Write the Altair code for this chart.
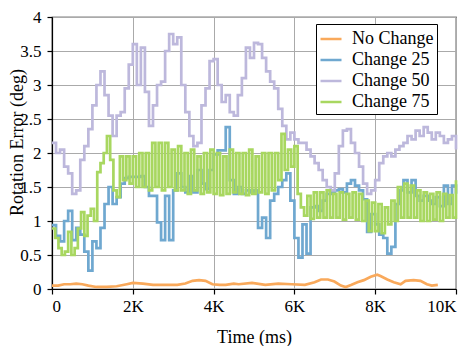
import altair as alt
import pandas as pd
import numpy as np

series_names = ["No Change", "Change 25", "Change 50", "Change 75"]
series_colors = ["#F9A95B", "#6FA8D0", "#BDB8DC", "#A8D760"]

# No Change (smooth, ms / deg)
orange_t = [0, 150, 300, 450, 600, 750, 900, 1100, 1350, 1600, 1850, 2000, 2250, 2500, 2800,
            3100, 3300, 3480, 3640, 3800, 3970, 4150, 4300, 4500, 4620, 4950, 5280, 5600, 5930,
            6260, 6500, 6660, 6830, 6990, 7150, 7270, 7400, 7560, 7720, 7890, 8050, 8130, 8300,
            8460, 8630, 8750, 8950, 9120, 9280, 9400, 9550]
orange_v = [0.05, 0.05, 0.07, 0.07, 0.08, 0.07, 0.05, 0.03, 0.03, 0.04, 0.07, 0.09, 0.08, 0.06, 0.06,
            0.06, 0.08, 0.12, 0.13, 0.12, 0.07, 0.06, 0.06, 0.08, 0.07, 0.09, 0.06, 0.08, 0.07,
            0.06, 0.10, 0.14, 0.14, 0.11, 0.05, 0.03, 0.06, 0.10, 0.13, 0.18, 0.21, 0.19, 0.14,
            0.10, 0.07, 0.12, 0.13, 0.12, 0.07, 0.05, 0.06]

# Change 25, sampled every 100 ms
blue_v = [0.94, 0.78, 0.70, 1.00, 1.15, 0.72, 0.90, 0.80, 0.55, 0.27,
          0.70, 0.60, 0.90, 1.25, 1.50, 1.25, 1.35, 1.55, 1.63, 1.65,
          1.65, 1.65, 1.66, 1.50, 1.37, 1.37, 0.98, 0.72, 1.37, 0.72,
          1.45, 1.70, 1.50, 1.42, 1.66, 1.42, 1.75, 1.55, 1.47, 1.75,
          1.98, 2.04, 2.04, 2.38, 1.60, 1.40, 1.50, 1.40, 1.45, 1.42,
          1.45, 0.90, 1.05, 0.75, 1.30, 1.40, 1.50, 1.60, 1.70, 1.30,
          0.75, 0.46, 0.95, 0.52, 1.20, 1.22, 1.15, 1.30, 1.40, 1.42,
          1.45, 1.47, 1.42, 1.55, 1.60, 1.52, 1.45, 1.32, 0.84, 1.10,
          0.95, 0.80, 0.75, 0.52, 0.62, 1.25, 1.45, 1.60, 1.42, 1.60,
          1.37, 1.30, 1.37, 1.30, 1.25, 1.35, 1.22, 1.52, 1.25, 1.52,
          1.40]

# Change 50, sampled every 100 ms
purple_v = [2.15, 2.00, 2.05, 1.80, 1.70, 1.40, 1.45, 1.90, 2.10, 2.35,
            2.70, 3.00, 3.20, 2.85, 2.55, 2.25, 2.55, 2.60, 2.95, 3.30,
            3.60, 3.00, 3.55, 2.90, 2.40, 2.70, 3.00, 3.05, 3.50, 3.75,
            3.60, 3.70, 3.00, 2.60, 2.25, 2.10, 2.15, 2.70, 2.95, 3.35,
            3.38, 3.00, 2.75, 2.85, 2.60, 2.55, 2.85, 3.10, 3.55, 3.40,
            3.62, 3.60, 3.40, 3.20, 3.05, 2.95, 2.65, 2.40, 2.20, 2.30,
            2.20, 2.15, 2.15, 2.05, 1.95, 1.85, 1.75, 1.60, 1.50, 1.45,
            1.70, 2.10, 2.33, 2.35, 2.15, 2.00, 1.80, 1.55, 1.40, 1.45,
            1.60, 1.85, 1.95, 2.00, 1.95, 2.05, 2.10, 2.15, 2.25, 2.20,
            2.33, 2.25, 2.38, 2.30, 2.20, 2.30, 2.25, 2.15, 2.20, 2.25,
            2.05]

# Change 75, sampled every 80 ms
green_v = [0.89, 0.75, 0.60, 0.50, 0.55, 0.84, 0.50, 0.60, 0.89, 1.13,
           0.78, 1.08, 1.18, 1.00, 1.72, 1.85, 2.00, 2.25, 1.90, 1.45,
           1.35, 1.95, 1.60, 1.95, 1.55, 1.95, 1.50, 2.00, 1.50, 2.00,
           1.45, 2.15, 1.50, 2.15, 1.45, 2.15, 1.50, 2.05, 1.45, 2.10,
           1.45, 2.00, 1.40, 2.05, 1.45, 1.95, 1.40, 2.00, 1.42, 2.05,
           1.40, 2.00, 1.38, 1.95, 1.40, 2.05, 1.42, 2.00, 1.40, 2.00,
           1.38, 2.05, 1.40, 1.95, 1.42, 2.00, 1.40, 2.00, 1.45, 2.00,
           1.60, 2.28, 1.75, 2.05, 1.80, 2.10, 1.40, 1.20, 1.08, 1.37,
           1.03, 1.42, 1.05, 1.42, 1.05, 1.45, 1.05, 1.40, 1.05, 1.42,
           1.02, 1.40, 1.05, 1.42, 1.02, 1.40, 1.00, 1.30, 0.85, 1.27,
           0.85, 1.25, 0.82, 1.20, 0.95, 1.30, 1.00, 1.50, 1.05, 1.55,
           1.05, 1.52, 1.05, 1.45, 1.00, 1.42, 1.00, 1.40, 1.02, 1.42,
           1.00, 1.40, 1.05, 1.38, 1.05, 1.60]

x_ticks = [0, 2000, 4000, 6000, 8000, 10000]
y_ticks = [0, 0.5, 1, 1.5, 2, 2.5, 3, 3.5, 4]

df_smooth = pd.DataFrame({"t": orange_t, "v": orange_v, "s": "No Change"})
df_step = pd.concat([
    pd.DataFrame({"t": np.arange(len(blue_v)) * 100, "v": blue_v, "s": "Change 25"}),
    pd.DataFrame({"t": np.arange(len(purple_v)) * 100, "v": purple_v, "s": "Change 50"}),
    pd.DataFrame({"t": np.arange(len(green_v)) * 80, "v": green_v, "s": "Change 75"}),
], ignore_index=True)

FONT = "Liberation Serif"
xs = alt.Scale(domain=[0, 10000], nice=False, zero=False)
ys = alt.Scale(domain=[0, 4], nice=False)

color = alt.Color("s:N", scale=alt.Scale(domain=series_names, range=series_colors),
                  legend=alt.Legend(title=None, orient="none", legendX=264, legendY=7,
                                    strokeColor="black", fillColor="white", padding=3,
                                    symbolType="stroke", symbolSize=441, symbolStrokeWidth=2.5,
                                    labelFont=FONT, labelFontSize=18, labelColor="black",
                                    rowPadding=0, labelOffset=9, labelLimit=300))

x_main = alt.X("t:Q", scale=xs, axis=alt.Axis(values=x_ticks, title="Time (ms)",
               labelExpr="datum.value == 0 ? '0' : (datum.value / 1000) + 'K'",
               tickSize=5, labelPadding=4, titlePadding=14))
y_main = alt.Y("v:Q", scale=ys, axis=alt.Axis(values=y_ticks, title="Rotation Error (deg)",
               labelExpr="datum.value + ''", tickSize=5, labelPadding=6,
               titleX=-35, titleY=125, titleBaseline="middle"))

smooth = alt.Chart(df_smooth).mark_line(strokeWidth=2.7, interpolate="linear").encode(
    x=x_main, y=y_main, color=color)
step = alt.Chart(df_step).mark_line(strokeWidth=2.7, interpolate="step-after").encode(
    x=x_main, y=y_main, color=color)

chart = alt.layer(smooth, step).properties(
    width=404, height=272, padding={"left": 0, "top": 0, "right": 0, "bottom": 0}
).configure(font=FONT).configure_view(
    stroke="black", strokeWidth=1.2).configure_axis(
    labelFont=FONT, titleFont=FONT, labelFontSize=17, titleFontSize=18, titleFontWeight="normal",
    labelColor="black", titleColor="black", domainColor="black", tickColor="black",
    gridColor="#aaaaaa", gridWidth=1, domainWidth=1.2, tickWidth=1.2
)

chart.save("out.html", embed_options={"renderer": "svg", "actions": False})
